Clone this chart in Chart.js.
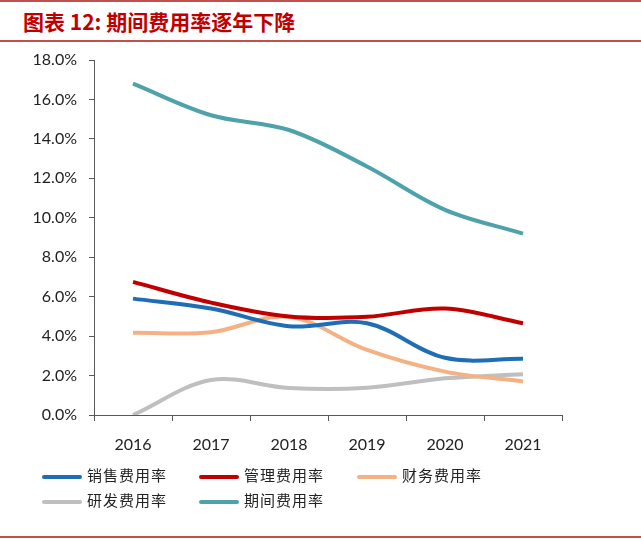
<!DOCTYPE html>
<html>
<head>
<meta charset="utf-8">
<script src="https://cdn.jsdelivr.net/npm/chart.js@4/dist/chart.umd.min.js"></script>
<style>
  body { margin: 0; background: #fff; }
  #wrap { position: relative; width: 641px; height: 539px; overflow: hidden; }
  #chart { position: absolute; left: 0; top: 0; }
  .rule { position: absolute; left: 0; width: 641px; height: 2px; background: #c0504d; }
  #title { position: absolute; left: 23px; top: 6px; font: bold 21px "Noto Sans CJK SC", sans-serif; color: #c00000; white-space: nowrap; }
  .leg { position: absolute; height: 20px; font: 15px "Noto Sans CJK SC", sans-serif; color: #222; letter-spacing: 1px; white-space: nowrap; }
  .leg i { position: absolute; left: 0; top: 9px; width: 40px; height: 4px; border-radius: 2px; }
  .leg span { position: absolute; left: 45px; top: -2px; }
</style>
</head>
<body>
<div id="wrap">
  <div class="rule" style="top:0"></div>
  <div id="title">图表 12: 期间费用率逐年下降</div>
  <div class="rule" style="top:40px"></div>
  <canvas id="chart" width="641" height="539"></canvas>
  <div id="legend"></div>
  <div class="rule" style="top:536px"></div>
</div>
<script>
// 年份
var years = ['2016', '2017', '2018', '2019', '2020', '2021'];

// 各项费用率 (%)
var salesRate   = [5.9, 5.4, 4.5, 4.65, 2.9, 2.85];
var adminRate   = [6.75, 5.7, 5.0, 4.98, 5.4, 4.65];
var financeRate = [4.17, 4.2, 4.98, 3.3, 2.2, 1.7];
var rdRate      = [0.0, 1.77, 1.37, 1.38, 1.86, 2.07];
var periodRate  = [16.8, 15.2, 14.45, 12.6, 10.4, 9.2];

var seriesNames  = ['销售费用率', '管理费用率', '财务费用率', '研发费用率', '期间费用率'];
var seriesColors = ['#1f6db5', '#c00000', '#f4b183', '#bfbfbf', '#4ea3ab'];
var seriesData   = [salesRate, adminRate, financeRate, rdRate, periodRate];

var datasets = seriesNames.map(function (name, i) {
    return {
        label: name,
        data: seriesData[i],
        borderColor: seriesColors[i],
        backgroundColor: seriesColors[i],
        borderWidth: 4,
        pointRadius: 0,
        tension: 0.35,
        fill: false
    };
});

var axisColor = '#595959';
var tickFont = { family: 'Lato, "Liberation Sans", sans-serif', size: 16 };

new Chart(document.getElementById('chart').getContext('2d'), {
    type: 'line',
    data: { labels: years, datasets: datasets },
    options: {
        responsive: false,
        animation: false,
        layout: { padding: { left: 34, top: 60, right: 79, bottom: 84 } },
        plugins: { legend: { display: false }, tooltip: { enabled: false } },
        scales: {
            x: {
                offset: true,
                grid: { offset: true, drawOnChartArea: false, drawTicks: true, tickLength: 6, color: axisColor },
                border: { color: axisColor, width: 1 },
                ticks: { color: '#222', font: tickFont, padding: 14 },
                afterFit: function (s) { s.height = 40; }
            },
            y: {
                min: 0,
                max: 18,
                grid: { drawOnChartArea: false, drawTicks: true, tickLength: 5, color: axisColor },
                border: { color: axisColor, width: 1 },
                ticks: {
                    stepSize: 2,
                    color: '#222',
                    font: tickFont,
                    padding: 12,
                    callback: function (v) { return v.toFixed(1) + '%'; }
                },
                afterFit: function (s) { s.width = 60; }
            }
        }
    }
});

// 图例 (两行三列)
var legendPos = [[42, 466], [199, 466], [357, 466], [42, 491], [199, 491]];
var legendBox = document.getElementById('legend');
seriesNames.forEach(function (name, i) {
    var d = document.createElement('div');
    d.className = 'leg';
    d.style.left = legendPos[i][0] + 'px';
    d.style.top = legendPos[i][1] + 'px';
    d.innerHTML = '<i style="background:' + seriesColors[i] + '"></i><span>' + name + '</span>';
    legendBox.appendChild(d);
});
</script>
</body>
</html>
